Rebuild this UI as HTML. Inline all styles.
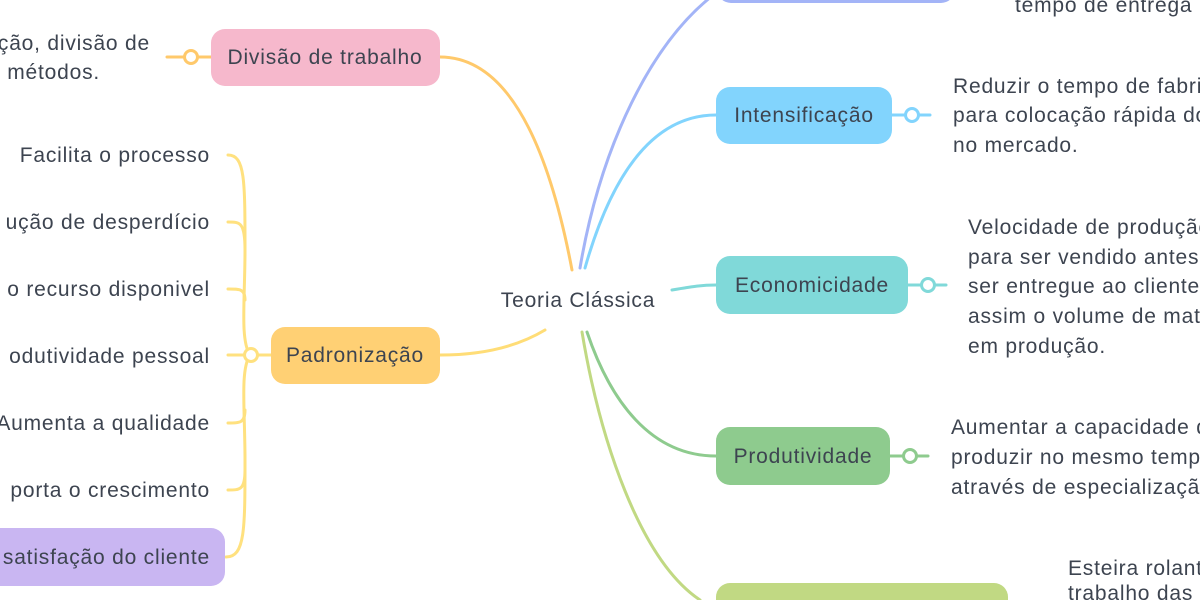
<!DOCTYPE html>
<html><head><meta charset="utf-8"><style>
html,body{margin:0;padding:0;}
body{width:1200px;height:600px;overflow:hidden;background:#fff;font-family:"Liberation Sans",sans-serif;}
svg{display:block;}
svg text{font-family:"Liberation Sans",sans-serif;font-size:21px;letter-spacing:0.8px;fill:#3d4450;}
</style></head><body>
<svg width="1200" height="600" viewBox="0 0 1200 600">
<g fill="none" stroke-width="3" stroke-linecap="round">
<path d="M440,57 C520,57 555,180 572,270" stroke="#ffc96b"/>
<path d="M440,355 C480,355 515,348 545,330" stroke="#ffdd77"/>
<path d="M580,268 C600,150 650,40 720,-10" stroke="#a3b4f7"/>
<path d="M585,268 C610,180 650,115 716,115" stroke="#82d4fd"/>
<path d="M672,290 C690,287 700,285 716,285" stroke="#80d9d9"/>
<path d="M587,332 C610,400 650,456 716,456" stroke="#8ecb8e"/>
<path d="M582,332 C600,440 640,560 700,600" stroke="#c1d983"/>
<path d="M167,57 H211" stroke="#ffc96b"/>
<path d="M892,115 H930" stroke="#82d4fd"/>
<path d="M908,285 H946" stroke="#80d9d9"/>
<path d="M890,456 H928" stroke="#8ecb8e"/>
<g stroke="#ffe17f">
<path d="M271,355 H228"/>
<path d="M250,355 C240,340 245,300 245,250 C245,180 245,155 228,155"/>
<path d="M245,250 C245,222 240,222 228,222"/>
<path d="M245,300 C245,289 240,289 228,289"/>
<path d="M250,355 C240,370 245,410 245,460 C245,530 245,557 226,557"/>
<path d="M245,410 C245,423 240,423 228,423"/>
<path d="M245,470 C245,490 240,490 228,490"/>
</g>
</g>
<g fill="#fff" stroke-width="3">
<circle cx="191" cy="57" r="6.5" stroke="#ffc96b"/>
<circle cx="251" cy="355" r="6.5" stroke="#ffe17f"/>
<circle cx="912" cy="115" r="6.5" stroke="#82d4fd"/>
<circle cx="928" cy="285" r="6.5" stroke="#80d9d9"/>
<circle cx="910" cy="456" r="6.5" stroke="#8ecb8e"/>
</g>
<rect x="211" y="29" width="229" height="57" rx="14" fill="#f6b8cc"/>
<rect x="271" y="327" width="169" height="57" rx="14" fill="#ffd074"/>
<rect x="-20" y="528" width="245" height="58" rx="14" fill="#c9b6f2"/>
<rect x="717" y="-30" width="238" height="33" rx="14" fill="#a3b4f7"/>
<rect x="716" y="87" width="176" height="57" rx="14" fill="#82d4fd"/>
<rect x="716" y="256" width="192" height="58" rx="14" fill="#80d9d9"/>
<rect x="716" y="427" width="174" height="58" rx="14" fill="#8ecb8e"/>
<rect x="716" y="583" width="292" height="50" rx="14" fill="#c1d983"/>
<text x="325" y="64" text-anchor="middle">Divisão de trabalho</text>
<text x="355" y="362" text-anchor="middle">Padronização</text>
<text x="804" y="122" text-anchor="middle">Intensificação</text>
<text x="812" y="292" text-anchor="middle">Economicidade</text>
<text x="803" y="463" text-anchor="middle">Produtividade</text>
<text x="578" y="307" text-anchor="middle">Teoria Clássica</text>
<g text-anchor="end">
<text x="150" y="50">ção, divisão de</text>
<text x="100" y="79">métodos.</text>
<text x="210" y="162">Facilita o processo</text>
<text x="210" y="229">ução de desperdício</text>
<text x="210" y="296">o recurso disponivel</text>
<text x="210" y="363">odutividade pessoal</text>
<text x="210" y="430">Aumenta a qualidade</text>
<text x="210" y="497">porta o crescimento</text>
<text x="210" y="564">satisfação do cliente</text>
</g>
<text x="1015" y="12">tempo de entrega</text>
<text x="953" y="93">Reduzir o tempo de fabricação</text>
<text x="953" y="122">para colocação rápida do produto</text>
<text x="953" y="152">no mercado.</text>
<text x="968" y="234">Velocidade de produção</text>
<text x="968" y="264">para ser vendido antes de</text>
<text x="968" y="293">ser entregue ao cliente, reduzindo</text>
<text x="968" y="323">assim o volume de material</text>
<text x="968" y="353">em produção.</text>
<text x="951" y="434">Aumentar a capacidade de</text>
<text x="951" y="464">produzir no mesmo tempo</text>
<text x="951" y="494">através de especialização.</text>
<text x="1068" y="575">Esteira rolante</text>
<text x="1068" y="600">trabalho das</text>
</svg>
</body></html>
